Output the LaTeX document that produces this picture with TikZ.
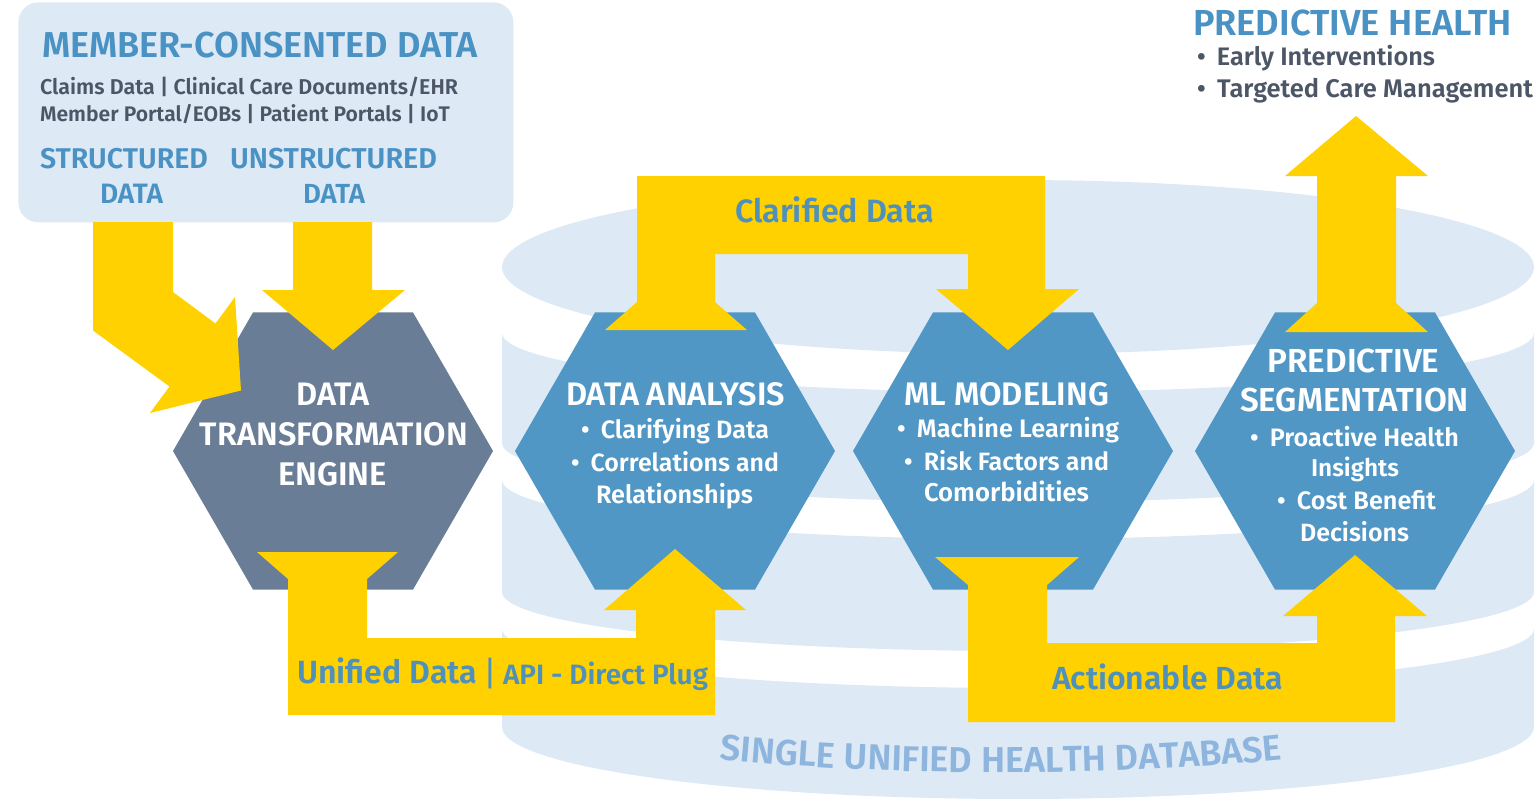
\documentclass[tikz,border=0pt]{standalone}
\usepackage{fontspec}
\setmainfont{Fira Sans}[BoldFont={Fira Sans SemiBold}]
\usepackage{graphicx}
\usetikzlibrary{shapes.geometric,decorations.text,calc}

\definecolor{pale}{RGB}{221,233,245}
\definecolor{ygold}{RGB}{255,209,0}
\definecolor{slate}{RGB}{106,125,151}
\definecolor{hexblue}{RGB}{80,151,198}
\definecolor{titleblue}{RGB}{74,146,196}
\definecolor{darktext}{RGB}{76,86,102}
\definecolor{labelblue}{RGB}{80,145,188}
\definecolor{dbtext}{RGB}{141,181,221}

\newcommand{\fitw}[2]{\resizebox{#1pt}{!}{#2}}
\newcommand{\bul}{\textbullet\hspace{0.45em}}

\begin{document}
\begin{tikzpicture}[x=0.5pt,y=-0.5pt,
  hex/.style={regular polygon, regular polygon sides=6, minimum size=160pt, inner sep=0pt, draw=none},
  txt/.style={inner sep=0pt, outer sep=0pt, font=\bfseries},
  hext/.style={txt, text=white, anchor=base},
  arrowfill/.style={fill=ygold},
  lab/.style={txt, text=labelblue, anchor=base}]

\useasboundingbox (0,0) rectangle (1535,805);

% ---------- database cylinder ----------
\fill[pale] plot[domain=0:360, samples=120] ({1018+516*cos(\x)},{267+87*sin(\x)}) -- cycle;
\fill[pale] plot[domain=180:0, samples=60] ({1018+516*cos(\x)},{333+59*sin(\x)})
  -- plot[domain=0:180, samples=60] ({1018+516*cos(\x)},{443+59*sin(\x)}) -- cycle;
\fill[pale] plot[domain=180:0, samples=60] ({1018+516*cos(\x)},{480+59*sin(\x)})
  -- plot[domain=0:180, samples=60] ({1018+516*cos(\x)},{592+59*sin(\x)}) -- cycle;
\fill[pale] plot[domain=180:0, samples=60] ({1018+516*cos(\x)},{629+59*sin(\x)})
  -- plot[domain=0:180, samples=60] ({1018+516*cos(\x)},{727+72*sin(\x)}) -- cycle;

\path[decorate, decoration={text along path, text align=center, text color=dbtext,
  text={|\fontsize{18}{18}\selectfont\bfseries|SINGLE UNIFIED HEALTH DATABASE}}]
  (663,753) .. controls (863,779) and (1139,779) .. (1339,753);

% ---------- member box ----------
\node[fill=pale, rounded corners=10pt, minimum width=247.5pt, minimum height=110pt,
  inner sep=0pt, anchor=north west] (mbox) at (18,2) {};

% ---------- hexagons ----------
\node[hex, fill=slate] (dte) at (333,451) {};
\node[hex, fill=hexblue] (da) at (675,451) {};
\node[hex, fill=hexblue] (ml) at (1013,451) {};
\node[hex, fill=hexblue] (ps) at (1355,451) {};

% ---------- yellow arrows ----------
% structured data -> engine
\fill[arrowfill] ($(dte)+(-240,-229)$) -- ($(dte)+(-160,-229)$) -- ($(dte)+(-160,-159)$)
  -- ($(dte)+(-117.5,-127.5)$) -- ($(dte)+(-98,-154)$) -- ($(dte)+(-92,-60.5)$)
  -- ($(dte)+(-183,-38)$) -- ($(dte)+(-163.5,-64.5)$) -- ($(dte)+(-240,-120.5)$) -- cycle;
% unstructured data -> engine
\fill[arrowfill] ($(dte)+(-40,-229)$) -- ($(dte)+(39,-229)$) -- ($(dte)+(39,-161)$)
  -- ($(dte)+(72,-161)$) -- ($(dte)+(0,-101)$) -- ($(dte)+(-71,-161)$)
  -- ($(dte)+(-40,-161)$) -- cycle;
% engine -> data analysis (unified data)
\fill[arrowfill] ($(dte)+(-76,101)$) -- ($(dte)+(65,101)$) -- ($(dte)+(34,128)$)
  -- ($(dte)+(34,187)$) -- ($(da)+(-39,187)$) -- ($(da)+(-39,159)$) -- ($(da)+(-71,159)$)
  -- ($(da)+(0,98)$) -- ($(da)+(71,159)$) -- ($(da)+(40,159)$) -- ($(da)+(40,264)$)
  -- ($(dte)+(-45,264)$) -- ($(dte)+(-45,128)$) -- cycle;
% data analysis -> ml modeling (clarified data)
\fill[arrowfill] ($(da)+(-70,-121)$) -- ($(da)+(-38,-149)$) -- ($(da)+(-38,-275)$)
  -- ($(ml)+(32,-275)$) -- ($(ml)+(32,-162)$) -- ($(ml)+(66,-162)$) -- ($(ml)+(-5,-101)$)
  -- ($(ml)+(-77,-162)$) -- ($(ml)+(-45,-162)$) -- ($(ml)+(-45,-197)$)
  -- ($(da)+(40,-197)$) -- ($(da)+(40,-149)$) -- ($(da)+(72,-121)$) -- cycle;
% ml modeling -> predictive segmentation (actionable data)
\fill[arrowfill] ($(ml)+(-78,106)$) -- ($(ml)+(66,106)$) -- ($(ml)+(34,134)$)
  -- ($(ml)+(34,192)$) -- ($(ps)+(-38,192)$) -- ($(ps)+(-38,165)$) -- ($(ps)+(-72,165)$)
  -- ($(ps)+(0,104)$) -- ($(ps)+(72,165)$) -- ($(ps)+(40,165)$) -- ($(ps)+(40,271)$)
  -- ($(ml)+(-45,271)$) -- ($(ml)+(-45,134)$) -- cycle;
% predictive segmentation -> predictive health
\fill[arrowfill] ($(ps)+(-70,-119)$) -- ($(ps)+(-38,-148)$) -- ($(ps)+(-38,-275)$)
  -- ($(ps)+(-70,-275)$) -- ($(ps)+(1,-335)$) -- ($(ps)+(73,-275)$) -- ($(ps)+(41,-275)$)
  -- ($(ps)+(41,-148)$) -- ($(ps)+(73,-119)$) -- cycle;

% ---------- box texts ----------
\node[txt, text=titleblue, anchor=base west] (t1) at (42,57) {\fitw{218}{MEMBER-CONSENTED DATA}};
\node[txt, text=darktext, anchor=base west] (t2) at (40,94) {\fitw{209}{Claims Data | Clinical Care Documents/EHR}};
\node[txt, text=darktext, anchor=base west] (t3) at (40,121) {\fitw{205}{Member Portal/EOBs | Patient Portals | IoT}};
\node[txt, text=titleblue, anchor=base] (s1) at (124,168) {\fitw{84}{STRUCTURED}};
\node[txt, text=titleblue, anchor=base] (s2) at (131.5,203) {\fitw{31.5}{DATA}};
\node[txt, text=titleblue, anchor=base] (u1) at (333.5,168) {\fitw{103.5}{UNSTRUCTURED}};
\node[txt, text=titleblue, anchor=base] (u2) at (334,203) {\fitw{31}{DATA}};

% ---------- predictive health ----------
\node[txt, text=titleblue, anchor=base west] (ph) at (1193,35) {\fitw{159.5}{PREDICTIVE HEALTH}};
\node[txt, text=darktext, anchor=base west] (ph1) at (1197,65) {\fitw{119}{\bul Early Interventions}};
\node[txt, text=darktext, anchor=base west] (ph2) at (1197,97) {\fitw{168}{\bul Targeted Care Management}};

% ---------- hexagon texts ----------
\node[hext] (dte1) at (333,405) {\fitw{36.5}{DATA}};
\node[hext] (dte2) at (334,445) {\fitw{134}{TRANSFORMATION}};
\node[hext] (dte3) at (332.5,485) {\fitw{54.5}{ENGINE}};

\node[hext] (da1) at (675.5,405) {\fitw{109.5}{DATA ANALYSIS}};
\node[hext] (da2) at (675,438) {\fitw{94}{\bul Clarifying Data}};
\node[hext] (da3) at (675,471) {\fitw{104}{\bul Correlations and}};
\node[hext] (da4) at (674.5,503) {\fitw{78.5}{Relationships}};

\node[hext] (ml1) at (1006.5,405) {\fitw{102.5}{ML MODELING}};
\node[hext] (ml2) at (1008,437) {\fitw{111}{\bul Machine Learning}};
\node[hext] (ml3) at (1006.5,470) {\fitw{102.5}{\bul Risk Factors and}};
\node[hext] (ml4) at (1006.5,501) {\fitw{82.5}{Comorbidities}};

\node[hext] (ps1) at (1353.5,372) {\fitw{86}{PREDICTIVE}};
\node[hext] (ps2) at (1354.5,411) {\fitw{114.5}{SEGMENTATION}};
\node[hext] (ps3) at (1354.5,446) {\fitw{104.5}{\bul Proactive Health}};
\node[hext] (ps4) at (1355,476) {\fitw{44}{Insights}};
\node[hext] (ps5) at (1356.5,509) {\fitw{79.5}{\bul Cost Benefit}};
\node[hext] (ps6) at (1354.5,541) {\fitw{54.5}{Decisions}};

% ---------- arrow labels ----------
\node[lab] (lcl) at (834.5,222) {\fitw{99.5}{Clarified Data}};
\node[lab, anchor=base west] (lun) at (297,683) {\fitw{90}{Unified Data}};
\node[lab] (lbar) at (490,685) {\fontsize{17}{17}\selectfont\mdseries |};
\node[lab, anchor=base west] (lapi) at (503,684) {\fitw{102.5}{API - Direct Plug}};
\node[lab] (lac) at (1167.5,689) {\fitw{115.5}{Actionable Data}};

\end{tikzpicture}
\end{document}
